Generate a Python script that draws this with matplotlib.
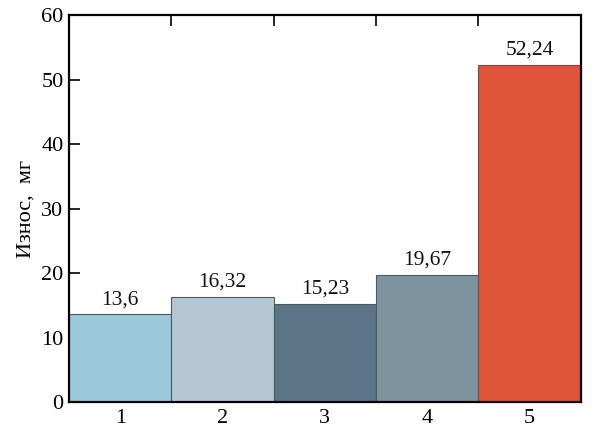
import matplotlib
matplotlib.use("Agg")
import matplotlib.pyplot as plt

categories = ["1", "2", "3", "4", "5"]
values = [13.6, 16.32, 15.23, 19.67, 52.24]
value_labels = ["13,6", "16,32", "15,23", "19,67", "52,24"]
colors = ["#9ccadb", "#b3c8d3", "#5b7587", "#7d939d", "#e0553a"]
yticks = [0, 10, 20, 30, 40, 50, 60]

plt.rcParams['font.family'] = ['Liberation Serif', 'DejaVu Serif']

fig = plt.figure(figsize=(5.95, 4.3), dpi=100)
ax = fig.add_axes([0.116, 0.065, 0.86, 0.9])

x = list(range(1, len(categories) + 1))
ax.bar(x, values, width=1.0, color=colors, edgecolor="#4a5a62", linewidth=0.8, zorder=2)
for xi, v, lab in zip(x, values, value_labels):
    ax.text(xi, v + 0.8, lab, ha="center", va="bottom", fontsize=15.5, color="#111111")

ax.set_xlim(0.5, 5.5)
ax.set_ylim(0, 60)
ax.set_yticks(yticks)
ax.set_yticklabels([str(t) for t in yticks], fontsize=16)
ax.set_xticks([1.5, 2.5, 3.5, 4.5])
ax.set_xticklabels([])
ax.set_xticks(x, minor=True)
ax.set_xticklabels(categories, minor=True, fontsize=16)
ax.tick_params(axis="x", which="major", direction="in", length=8, width=1.2, top=True, bottom=True)
ax.tick_params(axis="x", which="minor", length=0, pad=5)
ax.tick_params(axis="y", direction="in", length=8, width=1.2, right=True, left=True, pad=4)
ax.set_ylabel("Износ,  мг", fontsize=16, labelpad=4)
for s in ax.spines.values():
    s.set_linewidth(1.6)
    s.set_zorder(3)

fig.savefig("out.png", dpi=100)
